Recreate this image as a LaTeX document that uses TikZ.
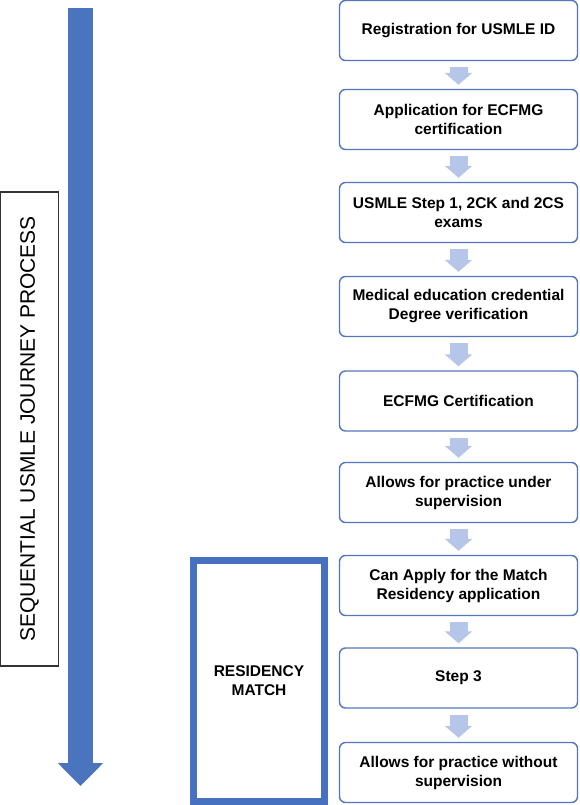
\documentclass[tikz,border=0pt]{standalone}
\usepackage{fontspec}
\setmainfont{Liberation Sans}
\usetikzlibrary{arrows.meta}
\definecolor{boxblue}{RGB}{84,118,192}
\definecolor{flowblue}{RGB}{182,198,232}
\definecolor{journeyblue}{RGB}{74,116,189}
\definecolor{matchblue}{RGB}{70,113,192}
\begin{document}
\begin{tikzpicture}
        [x=1pt, y=-1pt,
        stepbox/.style={draw=boxblue, line width=1.4pt, rounded corners=6pt, fill=white,
            minimum width=238pt, minimum height=60pt, inner sep=0pt, align=center,
            font=\fontsize{15.5}{19}\selectfont\bfseries},
        flow/.style={flowblue, line width=18pt, shorten <=6pt, shorten >=4pt,
            -{Triangle[width=27pt, length=12pt]}},
        journey/.style={journeyblue, line width=25pt, -{Triangle[width=44pt, length=23pt]}},
        sidebox/.style={draw=black!80, line width=1.2pt, minimum width=474pt, minimum height=58pt,
            inner sep=0pt, font=\fontsize{21}{25}\selectfont},
        matchbox/.style={draw=matchblue, line width=7pt, minimum width=131pt, minimum height=241pt,
            inner sep=0pt, align=center, font=\fontsize{15.5}{19}\selectfont\bfseries}]

        \useasboundingbox (0,0) rectangle (580,805);

        % steps of the journey
        \node[stepbox] (s1) at (458.5,30.5) {Registration for USMLE ID};
        \node[stepbox] (s2) at (458.5,119.5) {Application for ECFMG\\certification};
        \node[stepbox] (s3) at (458.5,212.5) {USMLE Step 1, 2CK and 2CS\\exams};
        \node[stepbox] (s4) at (458.5,306.5) {Medical education credential\\Degree verification};
        \node[stepbox] (s5) at (458.5,401) {ECFMG Certification};
        \node[stepbox] (s6) at (458.5,492.5) {Allows for practice under\\supervision};
        \node[stepbox] (s7) at (458.5,585.5) {Can Apply for the Match\\Residency application};
        \node[stepbox] (s8) at (458.5,678) {Step 3};
        \node[stepbox] (s9) at (458.5,772.5) {Allows for practice without\\supervision};

        % residency match frame
        \node[matchbox] (match) at (259,681) {RESIDENCY\\MATCH};

        % side label and long arrow
        \node[sidebox, rotate=90] (side) at (29.5,429) {SEQUENTIAL USMLE JOURNEY PROCESS};
        \coordinate (start) at (80.5,8);
        \coordinate (finish) at (80.5,786);
        \draw[journey] (start) -- (finish);

        % arrows between steps
        \foreach \a/\b in {s1/s2, s2/s3, s3/s4, s4/s5, s5/s6, s6/s7, s7/s8, s8/s9}
            \draw[flow] (\a) -- (\b);

        \end{tikzpicture}
\end{document}
